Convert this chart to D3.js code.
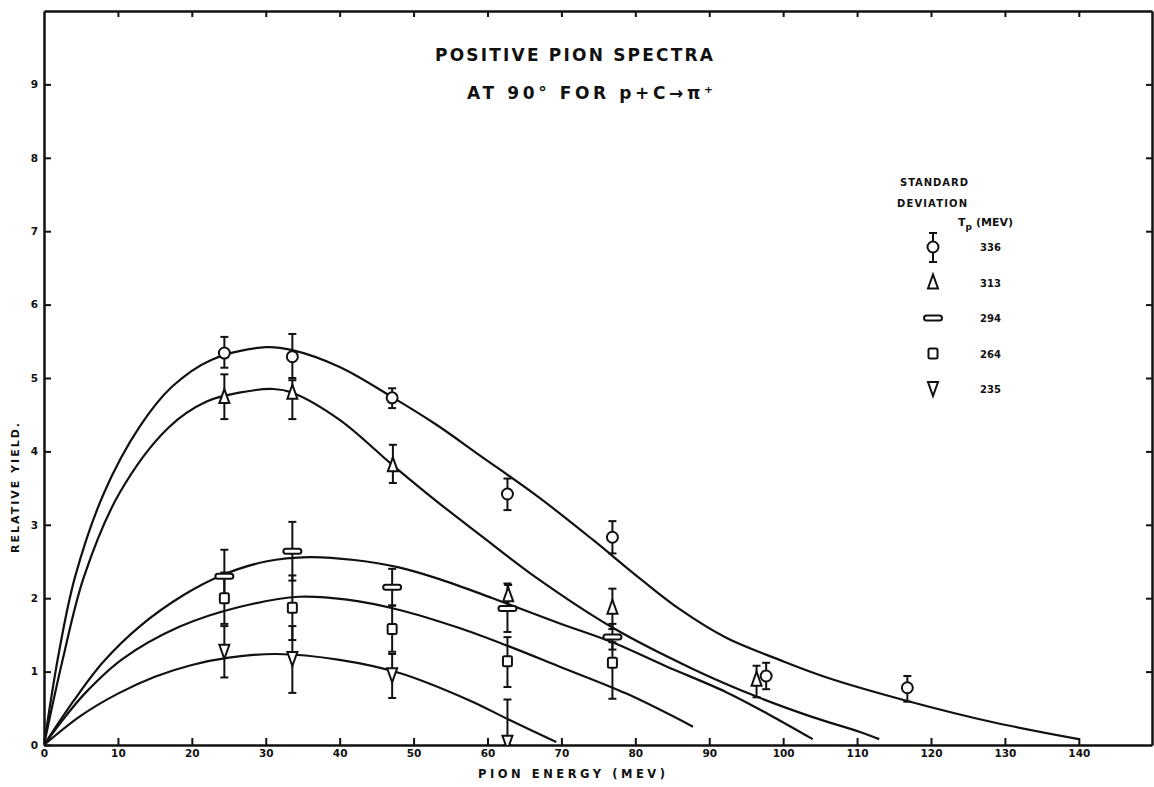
<!DOCTYPE html>
<html>
<head>
<meta charset="utf-8">
<script src="https://cdn.jsdelivr.net/npm/d3@7"></script>
<style>
  body { margin: 0; background: #fff; }
  text { font-family: 'DejaVu Sans', sans-serif; font-weight: bold; fill: #111; }
</style>
</head>
<body>
<div id="wrapper"></div>
<script>
// Data (energy in MeV, relative yield)

const energy336 = [24.4, 33.6, 47.1, 62.7, 76.9, 97.7, 116.8];
const yield336 = [5.34, 5.29, 4.73, 3.42, 2.83, 0.94, 0.78];
const low336 = [5.14, 5.0, 4.59, 3.2, 2.61, 0.76, 0.59];
const high336 = [5.56, 5.6, 4.86, 3.63, 3.05, 1.12, 0.94];

const energy313 = [24.4, 33.6, 47.2, 62.8, 76.9, 96.4];
const yield313 = [4.74, 4.8, 3.81, 2.04, 1.87, 0.89];
const low313 = [4.44, 4.44, 3.57, 1.88, 1.58, 0.65];
const high313 = [5.05, 4.97, 4.09, 2.18, 2.13, 1.08];

const energy294 = [24.4, 33.6, 47.1, 62.7, 76.9];
const yield294 = [2.3, 2.64, 2.15, 1.86, 1.47];
const low294 = [1.94, 2.24, 1.9, 1.54, 1.3];
const high294 = [2.66, 3.04, 2.4, 2.2, 1.65];

const energy264 = [24.4, 33.6, 47.1, 62.7, 76.9];
const yield264 = [2.0, 1.87, 1.58, 1.14, 1.12];
const low264 = [1.65, 1.43, 1.27, 0.79, 0.63];
const high264 = [2.35, 2.31, 1.9, 1.47, 1.4];

const energy235 = [24.4, 33.6, 47.1, 62.7];
const yield235 = [1.27, 1.17, 0.95, 0.03];
const low235 = [0.92, 0.71, 0.64, 0];
const high235 = [1.62, 1.62, 1.24, 0.62];

// hand-drawn fit curves
const curveE336 = [0, 2, 4.2, 8.1, 12.9, 17.3, 22.7, 30, 33.6, 40, 47.1, 53, 58.9, 67, 74.2, 80.6, 86, 92.3, 99.5, 105.9, 116.8, 128.4, 140];
const curveY336 = [0, 1.25, 2.29, 3.43, 4.33, 4.88, 5.25, 5.42, 5.38, 5.15, 4.74, 4.37, 3.95, 3.37, 2.8, 2.27, 1.85, 1.46, 1.16, 0.92, 0.6, 0.31, 0.08];

const curveE313 = [0, 2.5, 5.4, 10.2, 16.9, 22, 26.4, 31, 33.6, 40, 47.2, 53, 58.9, 66.6, 76.9, 87.7, 96.4, 104, 110.3, 113];
const curveY313 = [0, 1.15, 2.29, 3.43, 4.33, 4.68, 4.8, 4.85, 4.8, 4.43, 3.81, 3.33, 2.87, 2.28, 1.6, 1.04, 0.66, 0.38, 0.18, 0.08];

const curveE294 = [0, 4, 8, 13, 19, 24, 30, 35.9, 42, 48, 53.5, 60.7, 69.7, 76.9, 84, 92.3, 98, 104];
const curveY294 = [0, 0.6, 1.13, 1.62, 2.05, 2.31, 2.5, 2.56, 2.52, 2.42, 2.26, 2.0, 1.66, 1.4, 1.08, 0.72, 0.42, 0.08];

const curveE264 = [0, 3, 5.6, 10.6, 18.3, 26.4, 34.5, 41, 48.1, 56, 63, 69.7, 78.8, 87.8];
const curveY264 = [0, 0.4, 0.71, 1.17, 1.61, 1.88, 2.02, 1.98, 1.84, 1.6, 1.34, 1.07, 0.7, 0.25];

const curveE235 = [0, 5, 10, 15, 20, 25, 31.4, 40, 48.1, 57.5, 63, 69.3];
const curveY235 = [0, 0.4, 0.7, 0.93, 1.09, 1.19, 1.24, 1.16, 0.98, 0.61, 0.34, 0.04];

const xTicks = [0, 10, 20, 30, 40, 50, 60, 70, 80, 90, 100, 110, 120, 130, 140];
const yTicks = [0, 1, 2, 3, 4, 5, 6, 7, 8, 9];

const series = [
  { label: '336', shape: 'circle', e: energy336, y: yield336, lo: low336, hi: high336, ce: curveE336, cy: curveY336 },
  { label: '313', shape: 'triangle', e: energy313, y: yield313, lo: low313, hi: high313, ce: curveE313, cy: curveY313 },
  { label: '294', shape: 'slot', e: energy294, y: yield294, lo: low294, hi: high294, ce: curveE294, cy: curveY294 },
  { label: '264', shape: 'square', e: energy264, y: yield264, lo: low264, hi: high264, ce: curveE264, cy: curveY264 },
  { label: '235', shape: 'down', e: energy235, y: yield235, lo: low235, hi: high235, ce: curveE235, cy: curveY235 },
];

function drawChart() {
  let dimensions = {
    width: 1154,
    height: 787,
    margin: { top: 11, right: 2, bottom: 42, left: 44 },
  };
  dimensions.boundedWidth = dimensions.width - dimensions.margin.left - dimensions.margin.right;
  dimensions.boundedHeight = dimensions.height - dimensions.margin.top - dimensions.margin.bottom;

  // scales
  const xScale = d3.scaleLinear().domain([0, 149.9]).range([0, dimensions.boundedWidth]);
  const yScale = d3.scaleLinear().domain([0, 10]).range([dimensions.boundedHeight, 0]);

  const wrapper = d3
    .select('#wrapper')
    .append('svg')
    .attr('width', dimensions.width)
    .attr('height', dimensions.height)
    .style('display', 'block');

  wrapper.append('rect').attr('width', dimensions.width).attr('height', dimensions.height).attr('fill', '#fff');

  wrapper
    .append('defs')
    .append('clipPath')
    .attr('id', 'plot-clip')
    .append('rect')
    .attr('width', dimensions.boundedWidth)
    .attr('height', dimensions.boundedHeight);

  const bounds = wrapper
    .append('g')
    .attr('transform', `translate(${dimensions.margin.left}, ${dimensions.margin.top})`);

  // axes (ticks point inward, like the drafted frame)
  const styleAxis = (g) => {
    g.select('.domain').attr('stroke', '#111').attr('stroke-width', 2.5);
    g.selectAll('.tick line').attr('stroke', '#111').attr('stroke-width', 2);
    g.selectAll('.tick text')
      .attr('font-family', "'DejaVu Sans', sans-serif")
      .attr('font-weight', 'bold')
      .attr('font-size', 10.5)
      .attr('fill', '#111');
  };

  const xAxis = d3.axisBottom(xScale).tickValues(xTicks).tickSize(-7).tickSizeOuter(0).tickPadding(5).tickFormat(d3.format('d'));
  bounds.append('g').attr('transform', `translate(0, ${dimensions.boundedHeight})`).call(xAxis).call(styleAxis);

  const yAxis = d3.axisLeft(yScale).tickValues(yTicks).tickSize(-7).tickSizeOuter(0).tickPadding(6);
  bounds.append('g').call(yAxis).call(styleAxis);

  const topAxis = d3.axisTop(xScale).tickValues(xTicks.slice(1)).tickSize(-6).tickSizeOuter(0).tickFormat('');
  bounds.append('g').call(topAxis).call(styleAxis);

  const rightAxis = d3.axisRight(yScale).tickValues(yTicks.slice(1)).tickSize(-6).tickSizeOuter(0).tickFormat('');
  bounds.append('g').attr('transform', `translate(${dimensions.boundedWidth}, 0)`).call(rightAxis).call(styleAxis);

  // curves
  const lineGenerator = d3
    .line()
    .x((d) => xScale(d[0]))
    .y((d) => yScale(d[1]))
    .curve(d3.curveCatmullRom.alpha(0.5));

  const plot = bounds.append('g').attr('clip-path', 'url(#plot-clip)');

  series.forEach((s) => {
    plot
      .append('path')
      .attr('d', lineGenerator(d3.zip(s.ce, s.cy)))
      .attr('fill', 'none')
      .attr('stroke', '#111')
      .attr('stroke-width', 2.2);
  });

  // marker shapes, drawn around (0,0)
  const drawMarker = (g, shape) => {
    const common = (sel) => sel.attr('fill', '#fff').attr('stroke', '#111').attr('stroke-width', 2);
    if (shape === 'circle') g.append('circle').attr('r', 5.5).call(common);
    if (shape === 'triangle') g.append('path').attr('d', 'M0,-8L5,6L-5,6Z').call(common);
    if (shape === 'slot') g.append('rect').attr('x', -9).attr('y', -2.5).attr('width', 18).attr('height', 5).attr('rx', 2.5).call(common);
    if (shape === 'square') g.append('rect').attr('x', -4.5).attr('y', -5).attr('width', 9).attr('height', 10).attr('rx', 1.5).call(common);
    if (shape === 'down') g.append('path').attr('d', 'M-5,-7L5,-7L0,7Z').call(common);
  };

  const drawErrorBar = (g, x, y0, y1) => {
    g.append('line').attr('x1', x).attr('x2', x).attr('y1', y0).attr('y2', y1).attr('stroke', '#111').attr('stroke-width', 2);
    [y0, y1].forEach((y) =>
      g.append('line').attr('x1', x - 4).attr('x2', x + 4).attr('y1', y).attr('y2', y).attr('stroke', '#111').attr('stroke-width', 2)
    );
  };

  // error bars first, then markers on top
  series.forEach((s) => {
    s.e.forEach((e, i) => {
      drawErrorBar(plot, xScale(e), yScale(s.lo[i]), yScale(s.hi[i]));
    });
  });
  series.forEach((s) => {
    s.e.forEach((e, i) => {
      const g = plot.append('g').attr('transform', `translate(${xScale(e)}, ${yScale(s.y[i])})`);
      drawMarker(g, s.shape);
    });
  });

  // titles
  wrapper.append('text').attr('x', 435).attr('y', 61).attr('font-size', 17)
    .attr('textLength', 278).attr('lengthAdjust', 'spacing').text('POSITIVE PION SPECTRA');
  wrapper.append('text').attr('x', 467).attr('y', 99).attr('font-size', 17)
    .attr('textLength', 246).attr('lengthAdjust', 'spacing').text('AT 90° FOR p+C→π⁺');

  wrapper.append('text')
    .attr('transform', `translate(19, 488) rotate(-90)`)
    .attr('text-anchor', 'middle')
    .attr('font-size', 11)
    .attr('textLength', 130).attr('lengthAdjust', 'spacing')
    .text('RELATIVE YIELD.');

  wrapper.append('text').attr('x', 478).attr('y', 778).attr('font-size', 11.5)
    .attr('textLength', 187).attr('lengthAdjust', 'spacing').text('PION ENERGY (MEV)');

  // legend
  const legend = wrapper.append('g');
  legend.append('text').attr('x', 900).attr('y', 186).attr('font-size', 10)
    .attr('textLength', 68).attr('lengthAdjust', 'spacing').text('STANDARD');
  legend.append('text').attr('x', 897).attr('y', 207).attr('font-size', 10)
    .attr('textLength', 70).attr('lengthAdjust', 'spacing').text('DEVIATION');
  const tp = legend.append('text').attr('x', 958).attr('y', 226).attr('font-size', 11);
  tp.append('tspan').text('T');
  tp.append('tspan').attr('font-size', 9).attr('dy', 4).text('p');
  tp.append('tspan').attr('dy', -4).attr('dx', 4).text('(MEV)');

  series.forEach((s, i) => {
    const rowY = 247 + i * 35.5;
    if (i === 0) drawErrorBar(legend, 933, rowY - 14, rowY + 15);
    const g = legend.append('g').attr('transform', `translate(933, ${rowY})`);
    drawMarker(g, s.shape);
    legend.append('text').attr('x', 980).attr('y', rowY + 4).attr('font-size', 10).text(s.label);
  });
}
drawChart();
</script>
</body>
</html>
